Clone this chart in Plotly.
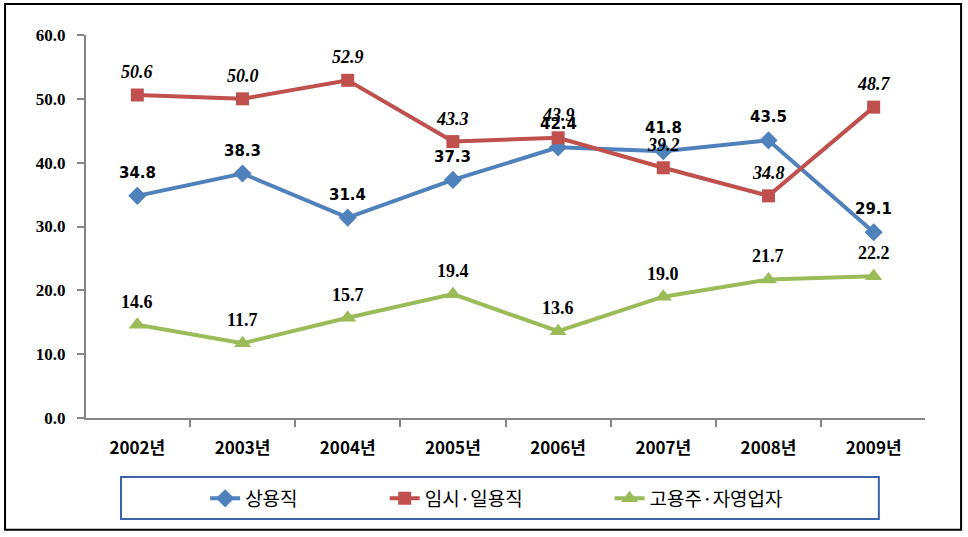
import plotly.graph_objects as go

years = ["2002년", "2003년", "2004년", "2005년", "2006년", "2007년", "2008년", "2009년"]
regular = [34.8, 38.3, 31.4, 37.3, 42.4, 41.8, 43.5, 29.1]
temp_daily = [50.6, 50.0, 52.9, 43.3, 43.9, 39.2, 34.8, 48.7]
self_emp = [14.6, 11.7, 15.7, 19.4, 13.6, 19.0, 21.7, 22.2]

series = [
    ("상용직", regular, "#4F81BD", "diamond", 14,
     dict(family="DejaVu Sans", size=15, color="black"), "<b>%s</b>"),
    ("임시·일용직", temp_daily, "#C0504D", "square", 13,
     dict(family="Liberation Serif", size=18, color="black"), "<b><i>%s</i></b>"),
    ("고용주·자영업자", self_emp, "#9BBB59", "triangle-up", 15,
     dict(family="Liberation Serif", size=18, color="black"), "<b>%s</b>"),
]
legend_x = [0.142, 0.356, 0.624]

fig = go.Figure()
for i, (name, vals, color, symbol, msize, _, _) in enumerate(series):
    fig.add_trace(go.Scatter(
        x=years, y=vals, mode="lines+markers", name=name,
        line=dict(color=color, width=4),
        marker=dict(symbol=symbol, size=msize, color=color),
        legend="legend" if i == 0 else f"legend{i + 1}",
    ))

# data labels: red first so the blue 42.4 sits on top of 43.9
annotations = []
for idx in (1, 2, 0):
    name, vals, color, symbol, msize, font, fmt = series[idx]
    for x, v in zip(years, vals):
        annotations.append(dict(
            x=x, y=v, text=fmt % f"{v:.1f}", showarrow=False,
            yshift=23, font=font, xanchor="center", yanchor="middle",
        ))

leg_style = dict(
    orientation="h", y=-0.21, yanchor="middle", xanchor="left",
    font=dict(family="Noto Sans CJK KR", size=19, color="black"),
    itemwidth=30, bgcolor="rgba(0,0,0,0)",
)
fig.update_layout(
    width=968, height=537,
    margin=dict(l=86, r=43, t=35, b=119),
    paper_bgcolor="white", plot_bgcolor="white",
    showlegend=True,
    legend=dict(x=legend_x[0], **leg_style),
    legend2=dict(x=legend_x[1], **leg_style),
    legend3=dict(x=legend_x[2], **leg_style),
    annotations=annotations,
    shapes=[
        dict(type="rect", xref="paper", yref="paper",
             x0=0.0417, x1=0.945, y0=-0.264, y1=-0.154,
             line=dict(color="#3C63A8", width=2)),
        dict(type="rect", xref="paper", yref="paper",
             x0=-0.0965, x1=1.043, y0=-0.292, y1=1.081,
             line=dict(color="black", width=2)),
    ],
)

fig.update_xaxes(
    showgrid=False, showline=True, linecolor="#868686", linewidth=2,
    ticks="outside", tickson="boundaries", ticklen=7, tickcolor="#868686", tickwidth=2,
    tickfont=dict(family="Noto Sans CJK KR", size=17, color="black"),
    ticklabelstandoff=14,
    tickvals=years, ticktext=[f"<b>{y}</b>" for y in years],
)
fig.update_yaxes(
    range=[0, 60], dtick=10, tickformat=".1f",
    showgrid=False, zeroline=False, showline=True, linecolor="#868686", linewidth=2,
    ticks="outside", ticklen=7, tickcolor="#868686", tickwidth=2,
    tickfont=dict(family="Liberation Serif", size=17, color="black"),
    ticklabelstandoff=8, tickprefix="<b>", ticksuffix="</b>",
)

fig.write_html("out.html", config={"displayModeBar": False},
               post_script="document.body.style.margin='0';")
